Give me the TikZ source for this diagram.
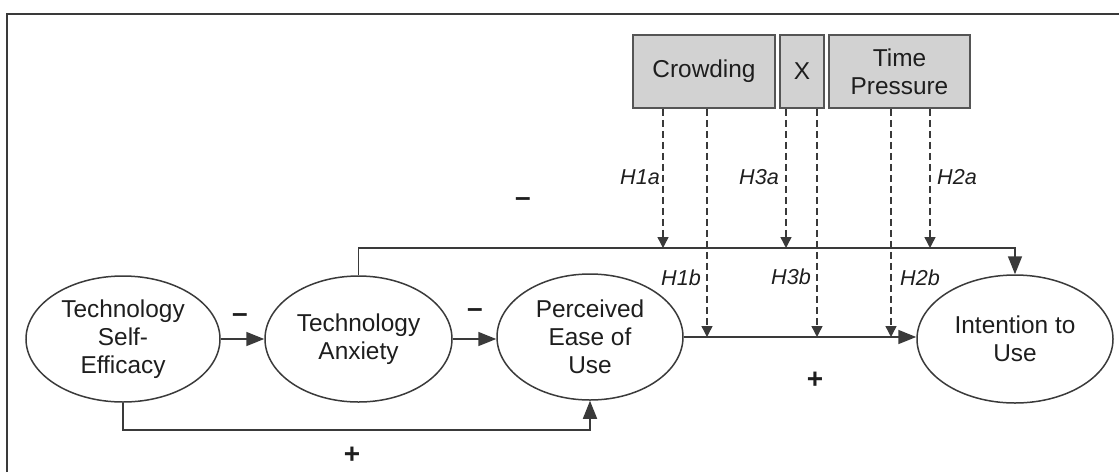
\documentclass[tikz,border=0pt]{standalone}
\usepackage{fontspec}
\setmainfont{Liberation Sans}
\usetikzlibrary{arrows.meta,shapes.geometric}
\definecolor{ln}{HTML}{3A3A3A}
\definecolor{txt}{HTML}{1E1E1E}
\definecolor{boxfill}{HTML}{D2D2D2}
\definecolor{boxline}{HTML}{555555}
\tikzset{
  construct/.style={ellipse,draw=ln,line width=0.75pt,inner sep=0pt,align=center,
     text=txt,font=\fontsize{12.2}{14}\selectfont},
  modbox/.style={rectangle,draw=boxline,fill=boxfill,line width=0.9pt,inner sep=0pt,
     minimum height=36.5pt,align=center,text=txt,font=\fontsize{12.2}{14}\selectfont},
  path/.style={draw=ln,line width=0.8pt,-{Triangle[length=9pt,width=7pt]}},
  modpath/.style={draw=ln,line width=0.7pt,dashed,dash pattern=on 3.5pt off 2pt,
     -{Triangle[length=5.5pt,width=5.5pt]}},
  hyp/.style={font=\fontsize{10.8}{12}\selectfont\itshape,text=txt,inner sep=0pt},
  sign/.style={font=\fontsize{14}{16}\selectfont\bfseries,text=txt,inner sep=0pt}
}
\begin{document}
\begin{tikzpicture}[x=0.5pt,y=-0.5pt]
\useasboundingbox (0,0) rectangle (1119,472);
% frame (top and left only)
\draw[ln,line width=0.9pt] (7,472) -- (7,14) -- (1119,14);

% constructs
\node[construct,minimum width=97pt,minimum height=63pt] (tse) at (123,339) {Technology\\Self-\\Efficacy};
\node[construct,minimum width=93.5pt,minimum height=63pt] (ta) at (358.5,339) {Technology\\Anxiety};
\node[construct,minimum width=93pt,minimum height=63pt] (peou) at (590,337) {Perceived\\Ease of\\Use};
\node[construct,minimum width=98pt,minimum height=64pt] (iu) at (1015,339) {Intention to\\Use};

% moderator boxes
\node[modbox,minimum width=71pt] (crowd) at (704,71.5) {Crowding};
\node[modbox,minimum width=22pt] (xbox) at (802,71.5) {X};
\node[modbox,minimum width=70.5pt] (tp) at (899.5,71.5) {Time\\Pressure};

% helper coordinates
\coordinate (topbar) at (0,248);
\coordinate (botbar) at (0,430);
\coordinate (h1a) at (663,248);
\coordinate (h3a) at (786,248);
\coordinate (h2a) at (930,248);
\coordinate (h1b) at (707,337);
\coordinate (h3b) at (817,337);
\coordinate (h2b) at (891,337);

% main paths
\draw[path] (tse.east) -- (ta.west);
\draw[path] (ta.east) -- (ta.east -| peou.west);
\draw[path] (ta.north) |- (topbar -| iu.north) -- (iu.north);
\draw[path] (tse.south) |- (botbar -| peou.south) -- (peou.south);
\draw[path] (peou.east) -- (peou.east -| iu.west);

% moderating paths
\draw[modpath] (crowd.south -| h1a) -- (h1a);
\draw[modpath] (xbox.south -| h3a) -- (h3a);
\draw[modpath] (tp.south -| h2a) -- (h2a);
\draw[modpath] (crowd.south -| h1b) -- (h1b);
\draw[modpath] (xbox.south -| h3b) -- (h3b);
\draw[modpath] (tp.south -| h2b) -- (h2b);

% hypothesis labels
\node[hyp] (l1a) at (640,177) {H1a};
\node[hyp] (l3a) at (759,177) {H3a};
\node[hyp] (l2a) at (957,177) {H2a};
\node[hyp] (l1b) at (681,278) {H1b};
\node[hyp] (l3b) at (791,277) {H3b};
\node[hyp] (l2b) at (920,278) {H2b};

% signs
\node[sign] (s1) at (240,318) {–};
\node[sign] (s2) at (475,313) {–};
\node[sign] (s3) at (523,202) {–};
\node[sign] (s4) at (352,455) {+};
\node[sign] (s5) at (815,380) {+};
\end{tikzpicture}
\end{document}
